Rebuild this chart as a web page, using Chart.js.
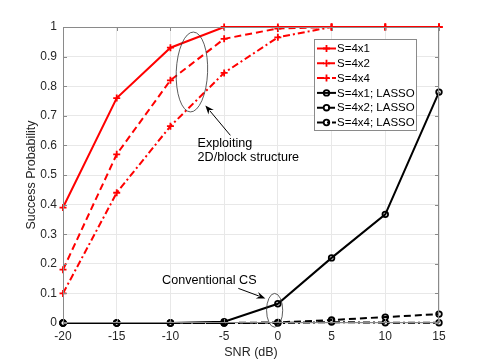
<!DOCTYPE html>
<html>
<head>
<meta charset="utf-8">
<script src="https://cdn.jsdelivr.net/npm/chart.js@4.4.1/dist/chart.umd.min.js"></script>
<style>
html,body{margin:0;padding:0;background:#fff;}
#wrap{width:485px;height:363px;position:relative;}
</style>
</head>
<body>
<div id="wrap"><canvas id="c" width="485" height="363"></canvas></div>
<script>
// ---- data ----
const snr = [-20, -15, -10, -5, 0, 5, 10, 15];
const s4x1 = [0.39, 0.76, 0.93, 1, 1, 1, 1, 1];
const s4x2 = [0.18, 0.57, 0.82, 0.96, 0.995, 1, 1, 1];
const s4x4 = [0.10, 0.44, 0.665, 0.845, 0.965, 1, 1, 1];
const lasso4x1 = [0, 0, 0, 0.004, 0.065, 0.22, 0.367, 0.78];
const lasso4x2 = [0, 0, 0, 0, 0.002, 0.01, 0.02, 0.03];
const lasso4x4 = [0, 0, 0, 0, 0, 0.003, 0.001, 0.001];
const seriesLabels = ['S=4x1', 'S=4x2', 'S=4x4', 'S=4x1; LASSO', 'S=4x2; LASSO', 'S=4x4; LASSO'];
const xTickLabels = ['-20', '-15', '-10', '-5', '0', '5', '10', '15'];
const yTickLabels = ['0', '0.1', '0.2', '0.3', '0.4', '0.5', '0.6', '0.7', '0.8', '0.9', '1'];
const xTitle = 'SNR (dB)';
const yTitle = 'Success Probability';
const annoTexts = ['Exploiting', '2D/block structure', 'Conventional CS'];

const FONT = '"Liberation Sans", Arial, Helvetica, sans-serif';
const RED = '#ff0000', BLK = '#000000';
const styles = [
  {c: RED, dash: [], pt: 'cross'},
  {c: RED, dash: [7, 4], pt: 'cross'},
  {c: RED, dash: [7, 3, 2, 3], pt: 'cross'},
  {c: BLK, dash: [], pt: 'circle'},
  {c: BLK, dash: [7, 4], pt: 'circle'},
  {c: BLK, dash: [7, 3, 2, 3], pt: 'circle'}
];
const values = [s4x1, s4x2, s4x4, lasso4x1, lasso4x2, lasso4x4];

const datasets = values.map((v, i) => ({
  label: seriesLabels[i],
  data: snr.map((x, j) => ({x: x, y: v[j]})),
  borderColor: styles[i].c,
  backgroundColor: 'rgba(0,0,0,0)',
  borderWidth: 2,
  borderDash: styles[i].dash,
  pointStyle: styles[i].pt,
  pointRadius: styles[i].pt === 'cross' ? 3.5 : 2.8,
  pointBorderWidth: styles[i].pt === 'cross' ? 1.8 : 1.8,
  pointBorderColor: styles[i].c,
  pointBackgroundColor: 'rgba(0,0,0,0)',
  tension: 0,
  clip: false,
  order: 5 - i
}));

function drawFrame(chart) {
  const ctx = chart.ctx, a = chart.chartArea;
  const xs = chart.scales.x, ys = chart.scales.y;
  ctx.save();
  ctx.strokeStyle = '#8a8a8a';
  ctx.lineWidth = 1;
  ctx.setLineDash([]);
  ctx.beginPath();
  ctx.moveTo(a.left + 0.5, a.top + 0.5);
  ctx.lineTo(a.right - 0.5, a.top + 0.5);
  ctx.lineTo(a.right - 0.5, a.bottom - 0.5);
  ctx.lineTo(a.left + 0.5, a.bottom - 0.5);
  ctx.closePath();
  ctx.stroke();
  const tl = 4;
  ctx.beginPath();
  snr.forEach(v => {
    const px = Math.round(xs.getPixelForValue(v)) + 0.5;
    ctx.moveTo(px, a.bottom); ctx.lineTo(px, a.bottom - tl);
    ctx.moveTo(px, a.top); ctx.lineTo(px, a.top + tl);
  });
  yTickLabels.forEach((t, i) => {
    const py = Math.round(ys.getPixelForValue(i / 10)) + 0.5;
    ctx.moveTo(a.left, py); ctx.lineTo(a.left + tl, py);
    ctx.moveTo(a.right, py); ctx.lineTo(a.right - tl, py);
  });
  ctx.stroke();
  ctx.restore();
}

function arrow(ctx, x1, y1, x2, y2) {
  const ang = Math.atan2(y2 - y1, x2 - x1);
  const hl = 9, hw = 3.5;
  const bx = x2 - hl * Math.cos(ang), by = y2 - hl * Math.sin(ang);
  ctx.beginPath();
  ctx.moveTo(x1, y1);
  ctx.lineTo(bx + 2 * Math.cos(ang), by + 2 * Math.sin(ang));
  ctx.stroke();
  ctx.beginPath();
  ctx.moveTo(x2, y2);
  ctx.lineTo(bx - hw * Math.sin(ang), by + hw * Math.cos(ang));
  ctx.lineTo(bx + 3 * Math.cos(ang), by + 3 * Math.sin(ang));
  ctx.lineTo(bx + hw * Math.sin(ang), by - hw * Math.cos(ang));
  ctx.closePath();
  ctx.fill();
}

const annotationPlugin = {
  id: 'annos',
  afterDatasetsDraw(chart) {
    const ctx = chart.ctx;
    const xs = chart.scales.x, ys = chart.scales.y;
    const X = v => xs.getPixelForValue(v), Y = v => ys.getPixelForValue(v);
    ctx.save();
    ctx.setLineDash([]);
    ctx.strokeStyle = '#333';
    ctx.lineWidth = 0.8;
    // ellipse around red curves
    ctx.beginPath();
    ctx.ellipse(X(-8.0), Y(0.848), X(-8.0 + 1.46) - X(-8.0), Y(0.848) - Y(0.848 + 0.135), 0.04, 0, Math.PI * 2);
    ctx.stroke();
    // ellipse around 0 dB LASSO points
    ctx.beginPath();
    ctx.ellipse(X(-0.3), Y(0.043), X(0.45) - X(-0.3), Y(0.043) - Y(0.1), 0, 0, Math.PI * 2);
    ctx.stroke();
    // arrows
    ctx.strokeStyle = '#000';
    ctx.fillStyle = '#000';
    ctx.lineWidth = 1;
    arrow(ctx, X(-4.42), Y(0.634), X(-6.75), Y(0.735));
    arrow(ctx, X(-3.68), Y(0.117), X(-1.16), Y(0.083));
    // texts
    ctx.fillStyle = '#000';
    ctx.font = '12.6px ' + FONT;
    ctx.textAlign = 'left';
    ctx.textBaseline = 'middle';
    ctx.fillText(annoTexts[0], X(-7.47), Y(0.608));
    ctx.fillText(annoTexts[1], X(-7.47), Y(0.559));
    ctx.fillText(annoTexts[2], X(-10.78), Y(0.144));
    ctx.restore();
  },
  afterDraw(chart) {
    drawFrame(chart);
    // legend box
    const ctx = chart.ctx, a = chart.chartArea;
    const bx = a.right - 125, by = a.top + 12, bw = 102, bh = 91;
    ctx.save();
    ctx.fillStyle = '#fff';
    ctx.fillRect(bx, by, bw, bh);
    ctx.strokeStyle = '#8a8a8a';
    ctx.lineWidth = 1;
    ctx.strokeRect(bx + 0.5, by + 0.5, bw, bh);
    ctx.font = '11.5px ' + FONT;
    ctx.textBaseline = 'middle';
    ctx.textAlign = 'left';
    chart.data.datasets.forEach((ds, i) => {
      const y = by + 9.5 + i * 14.8;
      ctx.strokeStyle = ds.borderColor;
      ctx.lineWidth = 2;
      ctx.setLineDash(ds.borderDash);
      ctx.beginPath();
      ctx.moveTo(bx + 3, y);
      ctx.lineTo(bx + 22, y);
      ctx.stroke();
      ctx.setLineDash([]);
      ctx.lineWidth = ds.pointBorderWidth;
      const cx = bx + 12.5;
      if (ds.pointStyle === 'cross') {
        ctx.beginPath();
        ctx.moveTo(cx - 3.5, y); ctx.lineTo(cx + 3.5, y);
        ctx.moveTo(cx, y - 3.5); ctx.lineTo(cx, y + 3.5);
        ctx.stroke();
      } else {
        ctx.beginPath();
        ctx.arc(cx, y, 2.8, 0, Math.PI * 2);
        ctx.stroke();
      }
      ctx.fillStyle = '#000';
      ctx.fillText(ds.label, bx + 23, y + 0.5);
    });
    ctx.restore();
  }
};

new Chart(document.getElementById('c'), {
  type: 'line',
  data: {datasets: datasets},
  plugins: [annotationPlugin],
  options: {
    responsive: false,
    animation: false,
    events: [],
    layout: {padding: {left: 0, top: 27, right: 46, bottom: 0}},
    plugins: {legend: {display: false}, tooltip: {enabled: false}, title: {display: false}},
    scales: {
      x: {
        type: 'linear',
        min: -20, max: 15,
        afterFit(s) { s.height = 40; },
        afterBuildTicks(s) { s.ticks = snr.map(v => ({value: v})); },
        ticks: {
          callback: (v) => xTickLabels[snr.indexOf(v)],
          font: {family: FONT, size: 12},
          color: '#262626',
          padding: 6,
          maxRotation: 0,
          autoSkip: false
        },
        grid: {color: '#e8e8e8', lineWidth: 1, drawTicks: false},
        border: {display: false},
        title: {display: true, text: xTitle, font: {family: FONT, size: 12.5}, color: '#262626', padding: {top: 0, bottom: 3}}
      },
      y: {
        type: 'linear',
        min: 0, max: 1,
        afterFit(s) { s.width = 63; },
        afterBuildTicks(s) { s.ticks = yTickLabels.map((t, i) => ({value: i / 10})); },
        ticks: {
          callback: (v) => yTickLabels[Math.round(v * 10)],
          font: {family: FONT, size: 12},
          color: '#262626',
          padding: 6,
          autoSkip: false
        },
        grid: {color: '#e8e8e8', lineWidth: 1, drawTicks: false},
        border: {display: false},
        title: {display: true, text: yTitle, font: {family: FONT, size: 12.5}, color: '#262626', padding: {top: 24, bottom: 0}}
      }
    }
  }
});
</script>
</body>
</html>
